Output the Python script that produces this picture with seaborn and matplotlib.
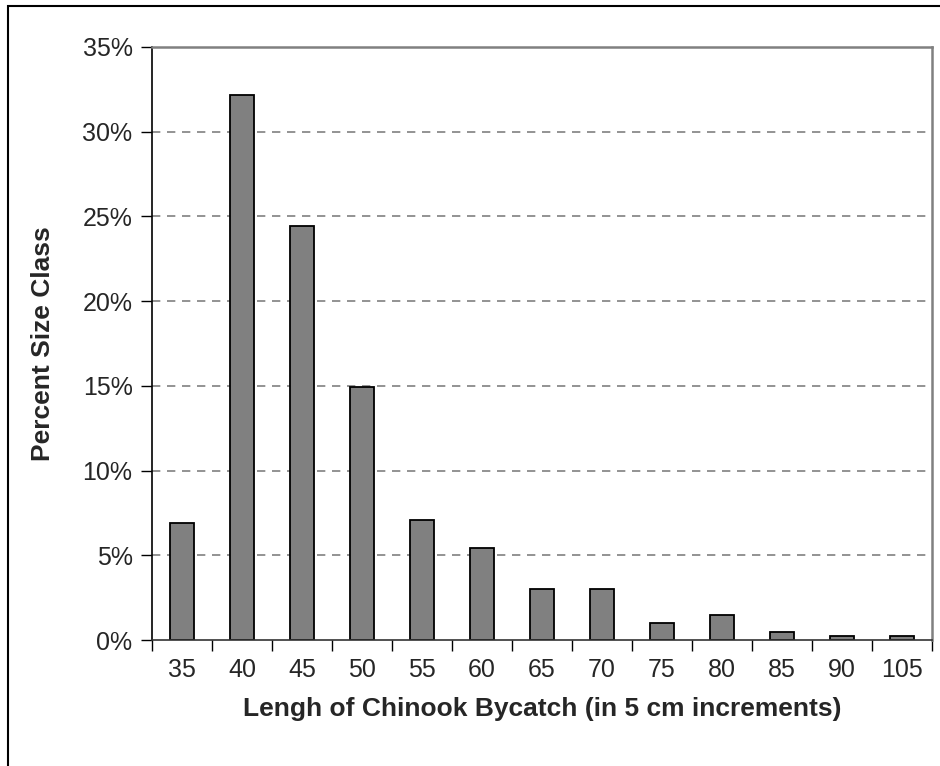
import matplotlib
matplotlib.use("Agg")
import matplotlib.pyplot as plt
from matplotlib.ticker import PercentFormatter, FixedLocator
from matplotlib.patches import Rectangle
import seaborn as sns
import pandas as pd

# length classes (cm) and share of bycatch in each class (%)
length_class = ["35", "40", "45", "50", "55", "60", "65", "70", "75", "80", "85", "90", "105"]
percent_size = [6.9, 32.15, 24.45, 14.95, 7.1, 5.45, 3.0, 3.0, 1.0, 1.45, 0.5, 0.25, 0.25]
y_ticks = [0, 5, 10, 15, 20, 25, 30, 35]

df = pd.DataFrame({"length": length_class, "pct": percent_size})

sns.set_style("white")
plt.rcParams["font.family"] = ["Liberation Sans", "DejaVu Sans"]

fig = plt.figure(figsize=(9.4, 7.66), dpi=100)
ax = fig.add_axes([152 / 940, 1 - 640 / 766, (932 - 152) / 940, (640 - 47) / 766])

sns.barplot(data=df, x="length", y="pct", color="#808080", edgecolor="black",
            linewidth=1.3, width=0.41, saturation=1, ax=ax, zorder=3)

ax.set_ylim(0, 35)
ax.set_xlim(-0.5, len(length_class) - 0.5)
ax.yaxis.set_major_locator(FixedLocator(y_ticks))
ax.yaxis.set_major_formatter(PercentFormatter(decimals=0))
for t in y_ticks[1:-1]:
    ax.axhline(t, color="#808080", linestyle=(0, (5, 4)), linewidth=1.2, zorder=1)

# category boundary ticks on x axis
ax.set_xticks([i - 0.5 for i in range(len(length_class) + 1)], minor=True)
ax.tick_params(axis="x", which="major", length=0, pad=13, labelsize=18)
ax.tick_params(axis="x", which="minor", length=8, width=1, color="black", direction="out", bottom=True)
ax.tick_params(axis="y", which="major", length=8, width=1, color="black", direction="out", left=True,
               pad=6, labelsize=18)

for side in ["left", "bottom"]:
    ax.spines[side].set_color("black")
    ax.spines[side].set_linewidth(1.2)
for side in ["top", "right"]:
    ax.spines[side].set_color("#808080")
    ax.spines[side].set_linewidth(1.8)
ax.spines["bottom"].set_color("#333333")
ax.spines["bottom"].set_zorder(4)

ax.set_xlabel("Lengh of Chinook Bycatch (in 5 cm increments)", fontsize=19, fontweight="bold", labelpad=11)
ax.set_ylabel("Percent Size Class", fontsize=19, fontweight="bold", labelpad=20)

# outer chart border
fig.patches.append(Rectangle((8 / 940, -0.1), 1.1, 1.1 - 6 / 766, transform=fig.transFigure,
                             fill=False, edgecolor="black", linewidth=1.5))

fig.savefig("out.png", dpi=100)
plt.close(fig)
